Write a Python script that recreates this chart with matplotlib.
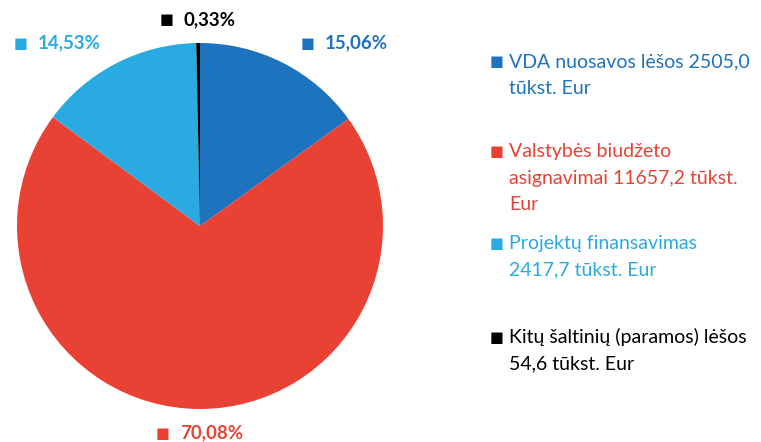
import matplotlib.pyplot as plt

# Finansavimo šaltiniai (tūkst. Eur) ir jų dalys
saltiniai = ['VDA nuosavos lėšos 2505,0\ntūkst. Eur',
             'Valstybės biudžeto\nasignavimai 11657,2 tūkst.\nEur',
             'Projektų finansavimas\n2417,7 tūkst. Eur',
             'Kitų šaltinių (paramos) lėšos\n54,6 tūkst. Eur']
sumos = [2505.0, 11657.2, 2417.7, 54.6]
procentai = [15.06, 70.08, 14.53, 0.33]
spalvos = ['#1E73BE', '#E94235', '#29ABE2', '#000000']

W, H = 761, 442
fig = plt.figure(figsize=(W / 100, H / 100), dpi=100)

def px(x, y):
    return x / W, 1 - y / H

# skritulio ašys
cx, cy, r = 200, 226, 183
ax = fig.add_axes([(cx - r) / W, 1 - (cy + r) / H, 2 * r / W, 2 * r / H])
ax.pie(procentai, colors=spalvos, startangle=90, counterclock=False, radius=1)
ax.set_xlim(-1, 1)
ax.set_ylim(-1, 1)
ax.set_aspect('equal')
ax.axis('off')

# procentų žymės aplink skritulį (kvadratėlis + tekstas)
vietos = [(325, 43), (180, 433), (38, 43), (184, 20)]
for p, c, (x, y) in zip(procentai, spalvos, vietos):
    fig.text(*px(x - 17, y), '■', color=c, fontsize=10.5,
             family='DejaVu Sans', ha='center', va='center')
    fig.text(*px(x, y), f'{p:.2f}'.replace('.', ',') + '%', color=c,
             fontsize=13.5, fontweight='bold', family='Lato',
             ha='left', va='center')

# legenda dešinėje, kiekviena eilutė atskirai
eilutes_y = [62, 152, 243, 337]
tarpas = 26.5
for lab, c, y in zip(saltiniai, spalvos, eilutes_y):
    fig.text(*px(497, y), '■', color=c, fontsize=10.5, family='DejaVu Sans',
             ha='center', va='center')
    for i, eil in enumerate(lab.split('\n')):
        fig.text(*px(509, y + i * tarpas), eil, color=c, fontsize=14,
                 family='Lato', ha='left', va='center')

fig.savefig('out.png', dpi=100)
